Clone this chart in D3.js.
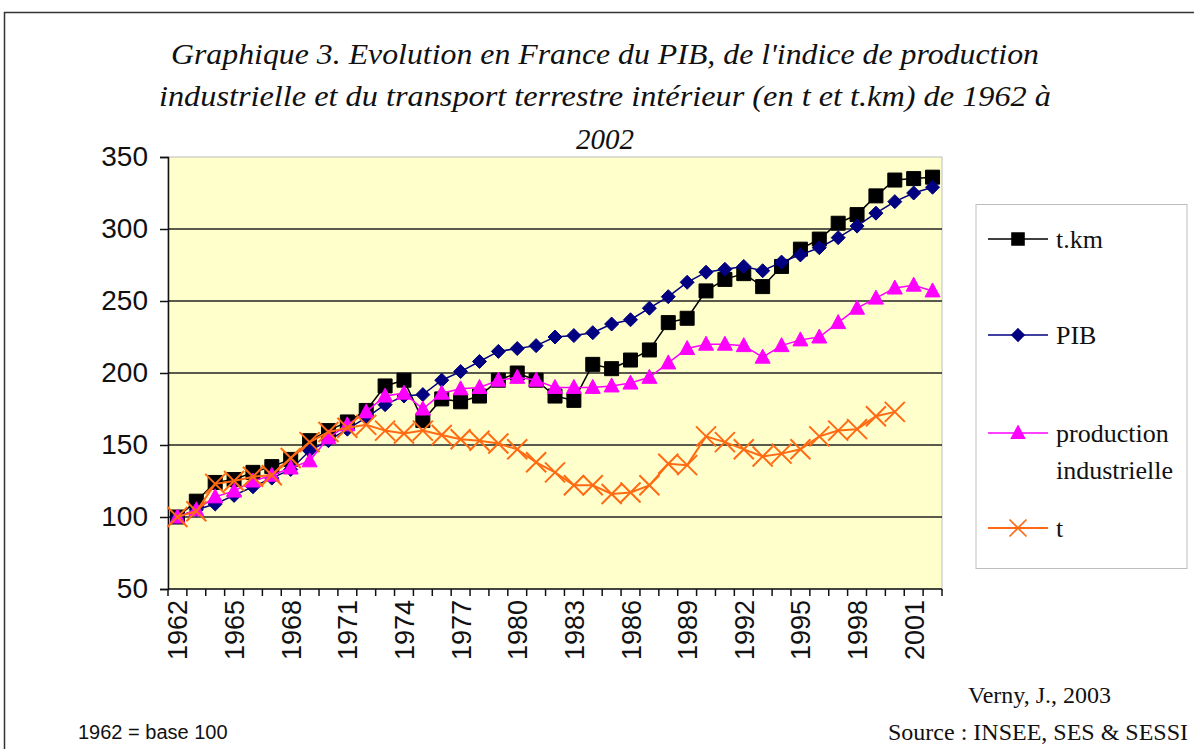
<!DOCTYPE html>
<html>
<head>
<meta charset="utf-8">
<script src="https://cdn.jsdelivr.net/npm/d3@7"></script>
<style>
  html, body { margin: 0; padding: 0; background: #fff; }
  svg { display: block; }
</style>
</head>
<body>
<div id="chart"></div>
<script>
// données (1962 = base 100)
const years = d3.range(1962, 2003);
const tickYears = [1962, 1965, 1968, 1971, 1974, 1977, 1980, 1983, 1986, 1989, 1992, 1995, 1998, 2001];
const yTicks = [50, 100, 150, 200, 250, 300, 350];

const tkm = [100, 111, 124, 126, 131, 135, 140, 153, 160, 166, 174, 191, 195, 167, 182, 180, 184, 195, 200, 195,
    184, 181, 206, 203, 209, 216, 235, 238, 257, 265, 269, 260, 274, 286, 293, 304, 310, 323, 334, 335, 336];
const pib = [100, 105, 109, 115, 121, 127, 133, 146, 153, 161, 169, 178, 184, 185, 195, 201, 208, 215, 217, 219,
    225, 226, 228, 234, 237, 245, 253, 263, 270, 272, 274, 271, 277, 282, 287, 294, 302, 311, 319, 325, 329];
const prod = [100, 105, 114, 118, 125, 129, 134, 139, 155, 164, 173, 184, 186, 175, 186, 189, 190, 195, 197, 195,
    190, 190, 190, 191, 193, 197, 207, 217, 220, 220, 219, 211, 219, 223, 225, 235, 245, 252, 259, 261, 257];
const tonnes = [100, 104, 123, 125, 128, 129, 141, 152, 159, 162, 164, 160, 158, 160, 157, 154, 153, 151, 147, 138,
    131, 122, 122, 116, 117, 122, 137, 136, 156, 152, 147, 142, 144, 147, 156, 160, 161, 170, 173, null, null];

const seriesNames = ['t.km', 'PIB', 'production|industrielle', 't'];

const W = 1194, H = 749;
const plot = { left: 168, right: 942, top: 157, bottom: 589 };

const svg = d3.select('#chart').append('svg')
    .attr('width', W)
    .attr('height', H);

// cadre extérieur
svg.append('rect')
    .attr('x', 4.5).attr('y', 12.5)
    .attr('width', W + 20).attr('height', H + 20)
    .attr('fill', 'none')
    .attr('stroke', '#333')
    .attr('stroke-width', 1.5);

// titre
const titleLines = [
    { text: "Graphique 3. Evolution en France du PIB, de l'indice de production", y: 64, len: 868 },
    { text: "industrielle et du transport terrestre intérieur (en t et t.km) de 1962 à", y: 106, len: 892 },
    { text: '2002', y: 149, len: null }
];
titleLines.forEach(l => {
    const t = svg.append('text')
        .attr('x', 605).attr('y', l.y)
        .attr('text-anchor', 'middle')
        .style('font-family', '"Liberation Serif", "Times New Roman", serif')
        .style('font-style', 'italic')
        .style('font-size', '29px')
        .attr('fill', '#111')
        .text(l.text);
    if (l.len) t.attr('textLength', l.len).attr('lengthAdjust', 'spacingAndGlyphs');
});

// échelles
const x = d3.scaleBand().domain(years).range([plot.left, plot.right]).padding(0);
const y = d3.scaleLinear().domain([50, 350]).range([plot.bottom, plot.top]);
const cx = d => x(d) + x.bandwidth() / 2;

// fond de la zone de tracé
svg.append('rect')
    .attr('x', plot.left).attr('y', plot.top)
    .attr('width', plot.right - plot.left).attr('height', plot.bottom - plot.top)
    .attr('fill', '#ffffcc')
    .attr('stroke', '#bdbdbd')
    .attr('stroke-width', 1);

// quadrillage
svg.append('g')
    .selectAll('line')
    .data(yTicks.filter(v => v > 50 && v < 350))
    .join('line')
    .attr('x1', plot.left).attr('x2', plot.right)
    .attr('y1', d => y(d)).attr('y2', d => y(d))
    .attr('stroke', '#222')
    .attr('stroke-width', 1.5);

// axe Y
const yAxis = svg.append('g')
    .attr('transform', `translate(${plot.left},0)`)
    .call(d3.axisLeft(y).tickValues(yTicks).tickSize(8).tickPadding(12));
yAxis.select('.domain').attr('stroke', '#111').attr('stroke-width', 1.5);
yAxis.selectAll('.tick line').attr('stroke', '#111').attr('stroke-width', 1.5);
yAxis.selectAll('.tick text')
    .style('font-family', '"Liberation Sans", Arial, sans-serif')
    .style('font-size', '28px')
    .attr('fill', '#111');

// axe X : graduations entre les catégories
const xg = svg.append('g');
xg.append('line')
    .attr('x1', plot.left).attr('x2', plot.right)
    .attr('y1', plot.bottom).attr('y2', plot.bottom)
    .attr('stroke', '#111').attr('stroke-width', 1.5);
xg.selectAll('line.tk')
    .data(years.map(d => x(d)).concat([plot.right]))
    .join('line')
    .attr('class', 'tk')
    .attr('x1', d => d).attr('x2', d => d)
    .attr('y1', plot.bottom).attr('y2', plot.bottom + 7)
    .attr('stroke', '#111').attr('stroke-width', 1.5);
xg.selectAll('text')
    .data(tickYears)
    .join('text')
    .attr('transform', d => `translate(${cx(d) + 10},${plot.bottom + 11}) rotate(-90)`)
    .attr('text-anchor', 'end')
    .style('font-family', '"Liberation Sans", Arial, sans-serif')
    .style('font-size', '27px')
    .attr('fill', '#111')
    .text(d => d);

// marqueurs
function marker(type) {
    const p = d3.path();
    if (type === 'square') {
        p.rect(-7, -7, 14, 14);
    } else if (type === 'diamond') {
        p.moveTo(0, -7); p.lineTo(7, 0); p.lineTo(0, 7); p.lineTo(-7, 0); p.closePath();
    } else if (type === 'triangle') {
        p.moveTo(0, -8); p.lineTo(7.5, 6); p.lineTo(-7.5, 6); p.closePath();
    } else {
        p.moveTo(-10, -10); p.lineTo(10, 10); p.moveTo(10, -10); p.lineTo(-10, 10);
    }
    return p.toString();
}

const series = [
    { name: seriesNames[0], values: tkm, color: '#000000', mk: 'square', lw: 1.5 },
    { name: seriesNames[1], values: pib, color: '#000080', mk: 'diamond', lw: 1.5 },
    { name: seriesNames[2], values: prod, color: '#ff00ff', mk: 'triangle', lw: 1.5 },
    { name: seriesNames[3], values: tonnes, color: '#ff6a13', mk: 'cross', lw: 2 }
];

const line = d3.line()
    .defined(d => d.v !== null)
    .x(d => cx(d.year))
    .y(d => y(d.v));

series.forEach(s => {
    const pts = years.map((yr, i) => ({ year: yr, v: s.values[i] }));
    const g = svg.append('g');
    g.append('path')
        .datum(pts)
        .attr('d', line)
        .attr('fill', 'none')
        .attr('stroke', s.color)
        .attr('stroke-width', s.lw);
    g.selectAll('path.mk')
        .data(pts.filter(d => d.v !== null))
        .join('path')
        .attr('class', 'mk')
        .attr('transform', d => `translate(${cx(d.year)},${y(d.v)})`)
        .attr('d', marker(s.mk))
        .attr('fill', s.mk === 'cross' ? 'none' : s.color)
        .attr('stroke', s.color)
        .attr('stroke-width', s.mk === 'cross' ? 2 : 1);
});

// légende
const lg = svg.append('g');
lg.append('rect')
    .attr('x', 976).attr('y', 204.5)
    .attr('width', 211).attr('height', 364)
    .attr('fill', '#fff')
    .attr('stroke', '#bdbdbd');
const legendY = [239, 335, 433, 528];
series.forEach((s, i) => {
    const ly = legendY[i];
    lg.append('line')
        .attr('x1', 988).attr('x2', 1048)
        .attr('y1', ly).attr('y2', ly)
        .attr('stroke', s.color).attr('stroke-width', s.lw);
    lg.append('path')
        .attr('transform', `translate(1018,${ly}) scale(0.85)`)
        .attr('d', marker(s.mk))
        .attr('fill', s.mk === 'cross' ? 'none' : s.color)
        .attr('stroke', s.color)
        .attr('stroke-width', 2);
    const parts = s.name.split('|');
    const t = lg.append('text')
        .attr('x', 1056).attr('y', ly + 9)
        .style('font-family', '"Liberation Serif", "Times New Roman", serif')
        .style('font-size', '26px')
        .attr('fill', '#111');
    parts.forEach((p, j) => {
        t.append('tspan').attr('x', 1056).attr('dy', j === 0 ? 0 : 37).text(p);
    });
});

// notes de bas de page
svg.append('text')
    .attr('x', 78).attr('y', 739)
    .style('font-family', '"Liberation Sans", Arial, sans-serif')
    .style('font-size', '20px')
    .attr('fill', '#111')
    .text('1962 = base 100');
svg.append('text')
    .attr('x', 968).attr('y', 703)
    .style('font-family', '"Liberation Serif", "Times New Roman", serif')
    .style('font-size', '24px')
    .attr('fill', '#111')
    .text('Verny, J., 2003');
svg.append('text')
    .attr('x', 888).attr('y', 740)
    .style('font-family', '"Liberation Serif", "Times New Roman", serif')
    .style('font-size', '24px')
    .attr('fill', '#111')
    .text('Source : INSEE, SES & SESSI');
</script>
</body>
</html>
